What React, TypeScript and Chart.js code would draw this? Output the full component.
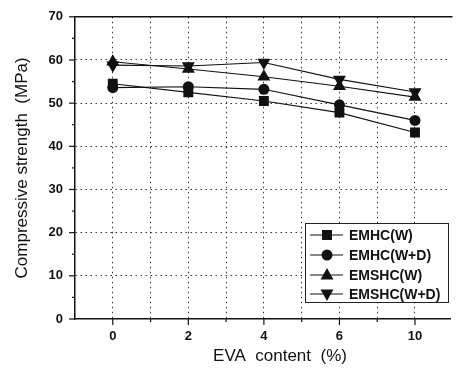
import React, { useEffect, useRef } from "react";
import { Chart, registerables } from "chart.js";

Chart.register(...registerables);

const xLabels = ["0", "2", "4", "6", "10"];
const emhcW = [54.5, 52.5, 50.5, 47.8, 43.2];
const emhcWD = [53.6, 53.8, 53.2, 49.6, 46.0];
const emshcW = [59.6, 57.9, 56.1, 53.9, 51.4];
const emshcWD = [58.8, 58.6, 59.4, 55.5, 52.6];
const seriesNames = ["EMHC(W)", "EMHC(W+D)", "EMSHC(W)", "EMSHC(W+D)"];
const yTicks = [0, 10, 20, 30, 40, 50, 60, 70];
const xTitle = "EVA  content  (%)";
const yTitle = "Compressive strength  (MPa)";

const FONT = "'Liberation Sans', Arial, sans-serif";
const SHIFT = 3;

function drawMarker(ctx: CanvasRenderingContext2D, kind: number, x: number, y: number) {
  ctx.beginPath();
  if (kind === 0) {
    ctx.rect(x - 5, y - 5, 10, 10);
  } else if (kind === 1) {
    ctx.arc(x, y, 5.5, 0, Math.PI * 2);
  } else if (kind === 2) {
    ctx.moveTo(x, y - 7);
    ctx.lineTo(x + 6.5, y + 4.5);
    ctx.lineTo(x - 6.5, y + 4.5);
    ctx.closePath();
  } else {
    ctx.moveTo(x, y + 7);
    ctx.lineTo(x + 6.5, y - 4.5);
    ctx.lineTo(x - 6.5, y - 4.5);
    ctx.closePath();
  }
  ctx.fill();
}

const decorPlugin = {
  id: "decor",
  afterDraw(chart: any) {
    const ctx = chart.ctx as CanvasRenderingContext2D;
    const a = chart.chartArea;
    const xs = chart.scales.x;
    const ys = chart.scales.y;
    ctx.save();
    ctx.strokeStyle = "#111";
    ctx.lineWidth = 1.5;
    ctx.beginPath();
    ctx.moveTo(a.left, a.top);
    ctx.lineTo(a.right + 2, a.top);
    ctx.stroke();
    ctx.lineWidth = 1.2;
    for (let v = 0; v <= 70; v += 5) {
      const py = ys.getPixelForValue(v);
      const len = v % 10 === 0 ? 6 : 3;
      ctx.beginPath();
      ctx.moveTo(a.left - len, py);
      ctx.lineTo(a.left, py);
      ctx.stroke();
    }
    for (let i = 0; i <= 8; i++) {
      const v = i * 0.5;
      const px = xs.getPixelForValue(v);
      const len = i % 2 === 0 ? 6 : 3;
      ctx.beginPath();
      ctx.moveTo(px, a.bottom);
      ctx.lineTo(px, a.bottom + len);
      ctx.stroke();
    }
    // x title
    ctx.fillStyle = "#111";
    ctx.font = `17px ${FONT}`;
    ctx.textAlign = "center";
    ctx.textBaseline = "middle";
    ctx.fillText(xTitle, 280, 356 + SHIFT);
    // legend
    const lx = 305, ly = 223 + SHIFT, lw = 143, lh = 79;
    ctx.fillStyle = "#fff";
    ctx.fillRect(lx, ly, lw, lh);
    ctx.lineWidth = 1;
    ctx.strokeStyle = "#222";
    ctx.strokeRect(lx + 0.5, ly + 0.5, lw, lh);
    const rows = [235, 255, 275, 294];
    ctx.font = `bold 14px ${FONT}`;
    ctx.textBaseline = "middle";
    ctx.textAlign = "left";
    rows.forEach((r, k) => {
      const ry = r + SHIFT;
      ctx.strokeStyle = "#111";
      ctx.lineWidth = 1.2;
      ctx.beginPath();
      ctx.moveTo(310, ry);
      ctx.lineTo(343, ry);
      ctx.stroke();
      ctx.fillStyle = "#111";
      drawMarker(ctx, k, 327, ry);
      ctx.fillText(seriesNames[k], 349, ry + 1);
    });
    ctx.restore();
  },
};

export default function App() {
  const ref = useRef<HTMLCanvasElement | null>(null);
  useEffect(() => {
    document.body.style.margin = "0";
    document.body.style.overflow = "hidden";
    const canvas = ref.current!;
    const toPts = (arr: number[]) => arr.map((v, i) => ({ x: i, y: v }));
    const common = {
      borderColor: "#111",
      backgroundColor: "#111",
      pointBackgroundColor: "#111",
      pointBorderColor: "#111",
      borderWidth: 1.1,
      pointBorderWidth: 0,
      fill: false,
      tension: 0,
    };
    const gridColor = "#333";
    const chart = new Chart(canvas, {
      type: "line",
      data: {
        datasets: [
          { ...common, label: seriesNames[0], data: toPts(emhcW), pointStyle: "rect", pointRadius: 7 },
          { ...common, label: seriesNames[1], data: toPts(emhcWD), pointStyle: "circle", pointRadius: 5.5 },
          { ...common, label: seriesNames[2], data: toPts(emshcW), pointStyle: "triangle", pointRadius: 7.5 },
          { ...common, label: seriesNames[3], data: toPts(emshcWD), pointStyle: "triangle", pointRadius: 7.5, pointRotation: 180 },
        ] as any,
      },
      options: {
        responsive: false,
        animation: false,
        devicePixelRatio: 1,
        layout: { padding: { top: 13, right: 0, left: 0, bottom: 0 } },
        plugins: { legend: { display: false }, tooltip: { enabled: false } },
        scales: {
          x: {
            type: "linear",
            min: -0.5,
            max: 4.47,
            afterBuildTicks: (s: any) => {
              s.ticks = [-0.5, 0, 0.5, 1, 1.5, 2, 2.5, 3, 3.5, 4].map((v) => ({ value: v }));
            },
            afterFit: (s: any) => {
              s.height = 53;
            },
            grid: {
              drawTicks: false,
              color: (c: any) => (c.tick && c.tick.value === -0.5 ? "rgba(0,0,0,0)" : gridColor),
              lineWidth: 1,
            },
            border: { display: true, color: "#111", width: 1.5, dash: [1.5, 3.5] },
            ticks: {
              autoSkip: false,
              maxRotation: 0,
              padding: 10,
              color: "#111",
              font: { family: FONT, size: 13, weight: "bold" },
              callback: (v: any) => (Number.isInteger(v) ? xLabels[v] : ""),
            },
            title: { display: false },
          },
          y: {
            min: 0,
            max: 70,
            afterBuildTicks: (s: any) => {
              s.ticks = yTicks.map((v) => ({ value: v }));
            },
            afterFit: (s: any) => {
              s.width = 75;
            },
            grid: {
              drawTicks: false,
              color: (c: any) =>
                c.tick && (c.tick.value === 0 || c.tick.value === 70) ? "rgba(0,0,0,0)" : gridColor,
              lineWidth: 1,
            },
            border: { display: true, color: "#111", width: 1.5, dash: [1.5, 3.5] },
            ticks: {
              padding: 12,
              color: "#111",
              font: { family: FONT, size: 13, weight: "bold" },
            },
            title: {
              display: true,
              text: yTitle,
              color: "#111",
              font: { family: FONT, size: 17 },
              padding: { top: 12, bottom: 0 },
            },
          },
        },
      },
      plugins: [decorPlugin],
    });
    return () => chart.destroy();
  }, []);
  return (
    <canvas
      ref={ref}
      width={458}
      height={372 + SHIFT}
      style={{ display: "block", width: 458, height: 372 + SHIFT, marginTop: -SHIFT }}
    />
  );
}
